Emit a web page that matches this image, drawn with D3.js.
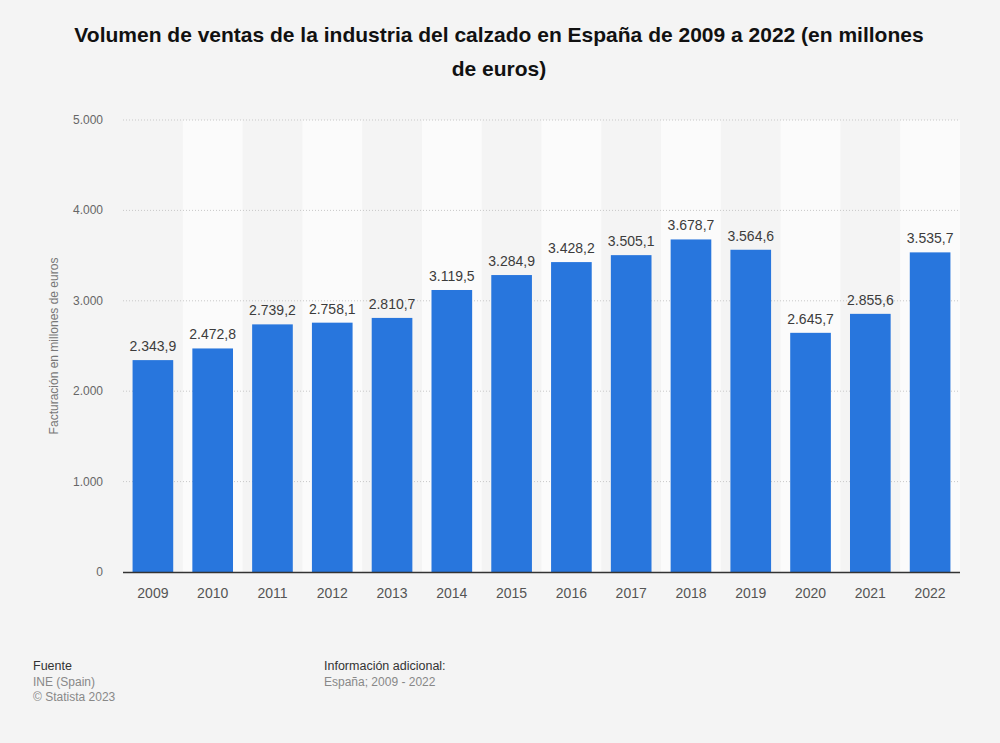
<!DOCTYPE html>
<html><head><meta charset="utf-8">
<script src="https://cdn.jsdelivr.net/npm/d3@7"></script>
<style>
body{margin:0;background:#f4f4f4;}
svg{display:block;font-family:"Liberation Sans",Arial,sans-serif;}
</style></head>
<body><svg id="c" width="1000" height="743"></svg>
<script>
const years = ["2009","2010","2011","2012","2013","2014","2015","2016","2017","2018","2019","2020","2021","2022"];
const values = [2343.9,2472.8,2739.2,2758.1,2810.7,3119.5,3284.9,3428.2,3505.1,3678.7,3564.6,2645.7,2855.6,3535.7];
const yTicks = [0,1000,2000,3000,4000,5000];

const svg = d3.select("#c");
svg.append("rect").attr("width",1000).attr("height",743).attr("fill","#f4f4f4");
const m = {l:123, r:960, t:120, b:572};
const x = d3.scaleBand().domain(years).range([m.l, m.r]).paddingInner(0.32).paddingOuter(0.16);
const xs = d3.scaleBand().domain(years).range([m.l, m.r]);
const y = d3.scaleLinear().domain([0,5000]).range([m.b, m.t]);
const fmt = d3.formatLocale({decimal:",", thousands:".", grouping:[3]});
const fInt = fmt.format(",.0f"), fDec = fmt.format(",.1f");

// stripes
svg.append("g").selectAll("rect").data(years.filter((d,i)=>i%2===1)).join("rect")
  .attr("x", d=>xs(d)).attr("width", xs.bandwidth()).attr("y", m.t).attr("height", m.b-m.t).attr("fill","#fbfbfb");

// grid
svg.append("g").selectAll("line").data(yTicks.filter(d=>d>0)).join("line")
  .attr("x1", m.l).attr("x2", m.r).attr("y1", d=>y(d)).attr("y2", d=>y(d))
  .attr("stroke","#c8c8c8").attr("stroke-dasharray","1,2");

// y labels
svg.append("g").selectAll("text").data(yTicks).join("text")
  .attr("x", 103).attr("y", d=>y(d)+4).attr("text-anchor","end")
  .attr("font-size",12).attr("fill","#666").text(d=>fInt(d));

// bars
svg.append("g").selectAll("rect").data(years).join("rect")
  .attr("x", d=>x(d)).attr("width", x.bandwidth())
  .attr("y", (d,i)=>y(values[i])).attr("height", (d,i)=>m.b-y(values[i]))
  .attr("fill","#2876dd");

// value labels
svg.append("g").selectAll("text").data(years).join("text")
  .attr("x", d=>x(d)+x.bandwidth()/2).attr("y", (d,i)=>y(values[i])-9)
  .attr("text-anchor","middle").attr("font-size",14).attr("fill","#3c3c3c")
  .text((d,i)=>fDec(values[i]));

// axis line
svg.append("line").attr("x1", m.l).attr("x2", m.r).attr("y1", m.b+0.5).attr("y2", m.b+0.5).attr("stroke","#333").attr("stroke-width",1.3);

// x labels
svg.append("g").selectAll("text").data(years).join("text")
  .attr("x", d=>x(d)+x.bandwidth()/2).attr("y", 598).attr("text-anchor","middle")
  .attr("font-size",14).attr("fill","#555").text(d=>d);

// y title
svg.append("text").attr("transform","translate(58,346) rotate(-90)").attr("text-anchor","middle")
  .attr("font-size",12).attr("fill","#777").text("Facturación en millones de euros");

// title
const t = svg.append("text").attr("text-anchor","middle").attr("font-size",21).attr("font-weight","bold").attr("fill","#111");
t.append("tspan").attr("x",499).attr("y",42).text("Volumen de ventas de la industria del calzado en España de 2009 a 2022 (en millones");
t.append("tspan").attr("x",499).attr("y",76).text("de euros)");

// footer
svg.append("text").attr("x",33).attr("y",670).attr("font-size",12.5).attr("fill","#333").text("Fuente");
svg.append("text").attr("x",33).attr("y",686).attr("font-size",12).attr("fill","#888").text("INE (Spain)");
svg.append("text").attr("x",33).attr("y",701).attr("font-size",12).attr("fill","#888").text("© Statista 2023");
svg.append("text").attr("x",324).attr("y",670).attr("font-size",12.5).attr("fill","#333").text("Información adicional:");
svg.append("text").attr("x",324).attr("y",686).attr("font-size",12).attr("fill","#888").text("España; 2009 - 2022");
</script></body></html>
